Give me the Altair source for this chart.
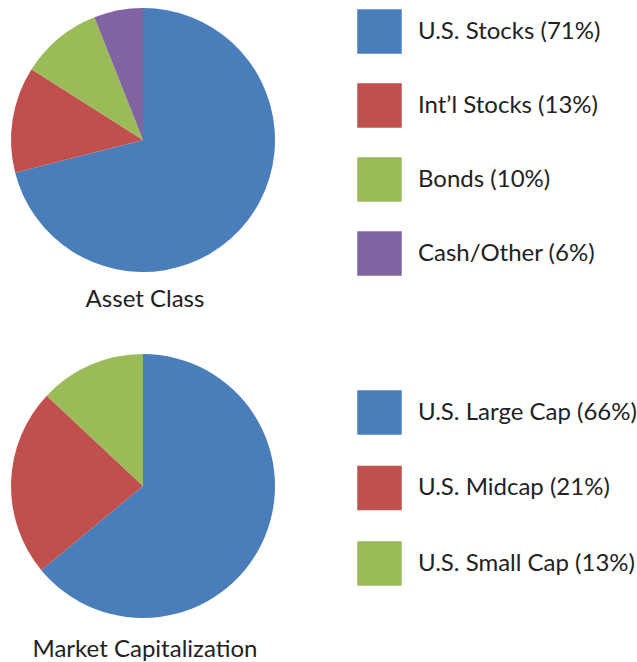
import altair as alt
import pandas as pd

# Data
asset_labels = ["U.S. Stocks (71%)", "Int\u2019l Stocks (13%)", "Bonds (10%)", "Cash/Other (6%)"]
asset_values = [71, 13, 10, 6]
asset_colors = ["#4A7EBB", "#C0504D", "#9BBB59", "#8064A2"]

cap_labels = ["U.S. Large Cap (66%)", "U.S. Midcap (21%)", "U.S. Small Cap (13%)"]
# slice sizes as drawn in the picture
cap_values = [64, 23, 13]
cap_colors = ["#4A7EBB", "#C0504D", "#9BBB59"]

titles = ["Asset Class", "Market Capitalization"]

FONT = "Lato"
TXT = "#222222"
FS = 24

df1 = pd.DataFrame({"label": asset_labels, "value": asset_values, "idx": range(len(asset_values))})
df2 = pd.DataFrame({"label": cap_labels, "value": cap_values, "idx": range(len(cap_values))})


def legend(x, y, pad):
    return alt.Legend(
        title=None, orient="none", legendX=x, legendY=y,
        symbolType="square", symbolSize=1980, symbolStrokeWidth=0, symbolOpacity=1,
        labelFont=FONT, labelFontSize=FS, labelColor=TXT, labelOffset=16,
        rowPadding=pad, padding=0, labelLimit=400,
    )


pie1 = alt.Chart(df1).mark_arc(outerRadius=132, stroke=None).encode(
    theta=alt.Theta("value:Q", stack=True),
    color=alt.Color("label:N", sort=asset_labels,
                    scale=alt.Scale(domain=asset_labels, range=asset_colors),
                    legend=legend(357, 9, 29)),
    order=alt.Order("idx:Q"),
    x=alt.value(143), y=alt.value(140),
)

pie2 = alt.Chart(df2).mark_arc(outerRadius=132, stroke=None).encode(
    theta=alt.Theta("value:Q", stack=True),
    color=alt.Color("label:N", sort=cap_labels,
                    scale=alt.Scale(domain=cap_labels, range=cap_colors),
                    legend=legend(357, 390, 30.5)),
    order=alt.Order("idx:Q"),
    x=alt.value(143), y=alt.value(486),
)

t1 = alt.Chart(pd.DataFrame({"t": [titles[0]]})).mark_text(
    font=FONT, fontSize=FS, color=TXT, align="center", baseline="alphabetic"
).encode(text="t:N", x=alt.value(145), y=alt.value(307))

t2 = alt.Chart(pd.DataFrame({"t": [titles[1]]})).mark_text(
    font=FONT, fontSize=FS, color=TXT, align="center", baseline="alphabetic"
).encode(text="t:N", x=alt.value(145), y=alt.value(657))

chart = alt.layer(pie1, pie2, t1, t2).resolve_scale(color="independent").properties(
    width=637, height=662, padding=0, autosize=alt.AutoSizeParams(type="none"),
    background="white",
).configure_view(stroke=None)

chart.save("out.html", embed_options={"renderer": "svg", "actions": False})
